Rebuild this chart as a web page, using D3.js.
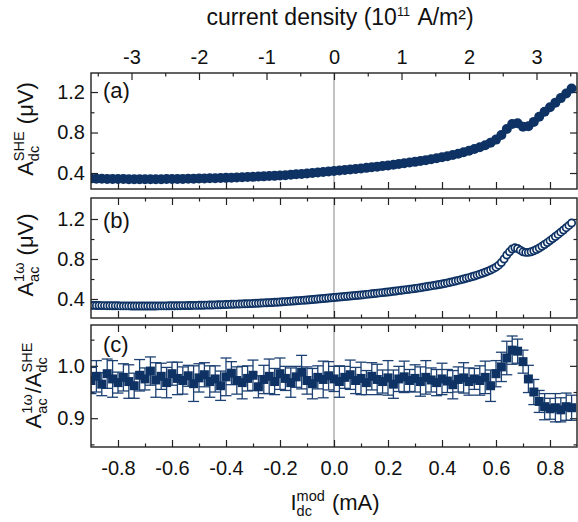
<!DOCTYPE html>
<html><head><meta charset="utf-8">
<script src="https://cdn.jsdelivr.net/npm/d3@7"></script>
<style>
body{margin:0;background:#fff}
svg{display:block}
text{font-family:"Liberation Sans",Arial,sans-serif;fill:#111}
</style>
</head><body><svg id="c" width="578" height="522"></svg>
<script>
// ---- data ----
// measurement grids (mA): coarse step for (a) and (c), fine step for (b)
const gridCoarseStart = -0.90, gridCoarseStep = 0.02;
const gridFineStart = -0.90, gridFineStep = 0.01;

// (a) A_dc^SHE (µV)
const sheDc = [
0.345,0.344,0.343,0.342,0.341,0.340,0.340,0.339,0.339,0.338,
0.338,0.338,0.339,0.339,0.340,0.340,0.341,0.342,0.343,0.344,
0.345,0.346,0.348,0.349,0.351,0.352,0.354,0.356,0.358,0.360,
0.362,0.365,0.367,0.370,0.372,0.375,0.379,0.383,0.387,0.391,
0.395,0.400,0.405,0.410,0.415,0.420,0.425,0.430,0.435,0.440,
0.445,0.451,0.457,0.463,0.469,0.475,0.482,0.489,0.496,0.503,
0.510,0.518,0.527,0.536,0.545,0.555,0.566,0.578,0.591,0.605,
0.620,0.637,0.655,0.675,0.700,0.730,0.775,0.835,0.885,0.892,
0.858,0.862,0.905,0.955,1.005,1.050,1.095,1.140,1.185,1.235];

// (b) A_ac^1ω (µV)
const ac1w = [
0.336,0.336,0.335,0.335,0.334,0.334,0.333,0.333,0.332,0.332,
0.332,0.331,0.331,0.331,0.331,0.330,0.330,0.330,0.330,0.330,
0.330,0.330,0.330,0.330,0.330,0.331,0.331,0.331,0.331,0.332,
0.332,0.332,0.333,0.333,0.334,0.334,0.335,0.335,0.336,0.336,
0.337,0.337,0.338,0.339,0.340,0.340,0.341,0.342,0.343,0.344,
0.345,0.346,0.347,0.348,0.349,0.350,0.351,0.352,0.353,0.354,
0.355,0.357,0.358,0.360,0.361,0.362,0.364,0.365,0.367,0.368,
0.370,0.372,0.374,0.376,0.378,0.380,0.382,0.384,0.386,0.388,
0.390,0.392,0.395,0.397,0.400,0.402,0.405,0.407,0.410,0.412,
0.415,0.417,0.420,0.422,0.425,0.427,0.430,0.432,0.435,0.437,
0.440,0.443,0.446,0.449,0.452,0.455,0.458,0.461,0.464,0.467,
0.470,0.473,0.477,0.480,0.484,0.487,0.491,0.494,0.498,0.501,
0.505,0.509,0.513,0.518,0.522,0.527,0.531,0.536,0.540,0.545,
0.550,0.555,0.561,0.567,0.573,0.580,0.586,0.593,0.600,0.607,
0.614,0.622,0.630,0.639,0.648,0.657,0.667,0.678,0.690,0.703,
0.718,0.738,0.765,0.800,0.840,0.872,0.900,0.912,0.905,0.888,
0.872,0.866,0.866,0.872,0.882,0.895,0.910,0.927,0.945,0.964,
0.984,1.004,1.025,1.046,1.068,1.090,1.113,1.136,1.160];

// (c) ratio and its error
const ratio = [
0.972,0.980,0.965,0.985,0.975,0.968,0.978,0.970,0.962,0.982,
0.975,0.990,0.973,0.980,0.968,0.985,0.976,0.972,0.981,0.966,
0.977,0.983,0.970,0.975,0.962,0.979,0.986,0.972,0.968,0.976,
0.982,0.960,0.974,0.980,0.970,0.985,0.976,0.968,0.979,0.988,
0.972,0.966,0.978,0.974,0.981,0.975,0.970,0.978,0.983,0.972,
0.976,0.968,0.980,0.974,0.970,0.977,0.965,0.975,0.979,0.972,
0.976,0.970,0.978,0.973,0.968,0.975,0.971,0.964,0.974,0.977,
0.970,0.975,0.972,0.978,0.962,0.985,0.998,1.015,1.030,1.028,
1.008,0.975,0.950,0.932,0.922,0.918,0.920,0.916,0.922,0.920];
const ratioErr = [
0.025,0.030,0.022,0.028,0.035,0.020,0.026,0.032,0.024,0.030,
0.021,0.027,0.033,0.025,0.029,0.022,0.031,0.026,0.020,0.034,
0.027,0.023,0.030,0.025,0.028,0.036,0.022,0.026,0.031,0.024,
0.029,0.021,0.027,0.033,0.025,0.030,0.023,0.028,0.020,0.032,
0.026,0.029,0.022,0.035,0.027,0.024,0.030,0.021,0.028,0.025,
0.031,0.023,0.026,0.029,0.022,0.033,0.027,0.024,0.030,0.021,
0.026,0.028,0.032,0.023,0.025,0.030,0.022,0.027,0.024,0.029,
0.026,0.020,0.028,0.031,0.030,0.025,0.028,0.032,0.027,0.023,
0.022,0.026,0.024,0.021,0.025,0.020,0.027,0.023,0.026,0.024];

// ticks
const xMajorTicks = [-0.8,-0.6,-0.4,-0.2,0.0,0.2,0.4,0.6,0.8];
const xMinorTicks = [-0.7,-0.5,-0.3,-0.1,0.1,0.3,0.5,0.7];
const topMajorTicks = [-3,-2,-1,0,1,2,3];
const topMinorTicks = [-3.5,-2.5,-1.5,-0.5,0.5,1.5,2.5,3.5];
const yMajorAB = [0.4,0.8,1.2];
const yMinorAB = [0.6,1.0];
const yMajorC = [0.9,1.0];
const yMinorC = [0.85,0.95,1.05];

// ---- drawing ----
const navy = "#0e3264";
const svg = d3.select("#c");
const L = 91, R = 577;
const x = d3.scaleLinear().domain([-0.9, 0.9]).range([L, R]);
const xTop = d3.scaleLinear().domain([-3.6, 3.6]).range([L, R]);

const panels = [
  {id:"a", top:73, bottom:189, domain:[0.242,1.388], major:yMajorAB, minor:yMinorAB, label:"(a)", lab:[33,129]},
  {id:"b", top:198, bottom:318, domain:[0.21,1.41], major:yMajorAB, minor:yMinorAB, label:"(b)", lab:[33,255]},
  {id:"c", top:325, bottom:447, domain:[0.845,1.078], major:yMajorC, minor:yMinorC, label:"(c)", lab:[41,385]}
];
const fmtX = d => d.toFixed(1);

function styleAxis(g, size) {
  g.select(".domain").remove();
  g.attr("font-family", null).attr("font-size", size || 20).attr("color", "#222");
  g.selectAll(".tick line").attr("stroke-width", 1.2);
  g.selectAll(".tick text").attr("fill", "#111");
}

panels.forEach(p => {
  const y = d3.scaleLinear().domain(p.domain).range([p.bottom, p.top]);
  p.y = y;
  const g = svg.append("g");
  g.append("clipPath").attr("id", "clip" + p.id)
    .append("rect").attr("x", L).attr("y", p.top).attr("width", R - L).attr("height", p.bottom - p.top);

  // zero line
  g.append("line").attr("x1", x(0)).attr("x2", x(0)).attr("y1", p.top).attr("y2", p.bottom)
    .attr("stroke", "#9a9a9a").attr("stroke-width", 1.2);

  // axes
  g.append("g").attr("transform", `translate(${L},0)`)
    .call(d3.axisLeft(y).tickValues(p.major).tickFormat(d => d.toFixed(1)).tickSizeInner(-7).tickSizeOuter(0).tickPadding(6))
    .call(a => styleAxis(a, 20));
  g.append("g").attr("transform", `translate(${L},0)`)
    .call(d3.axisLeft(y).tickValues(p.minor).tickFormat("").tickSizeInner(-3.5).tickSizeOuter(0))
    .call(a => styleAxis(a));
  g.append("g").attr("transform", `translate(${R},0)`)
    .call(d3.axisRight(y).tickValues(p.major).tickFormat("").tickSizeInner(-7).tickSizeOuter(0))
    .call(a => styleAxis(a));
  g.append("g").attr("transform", `translate(${R},0)`)
    .call(d3.axisRight(y).tickValues(p.minor).tickFormat("").tickSizeInner(-3.5).tickSizeOuter(0))
    .call(a => styleAxis(a));
  // bottom
  g.append("g").attr("transform", `translate(0,${p.bottom})`)
    .call(d3.axisBottom(x).tickValues(xMajorTicks).tickFormat(p.id === "c" ? fmtX : "").tickSizeInner(-7).tickSizeOuter(0).tickPadding(14))
    .call(a => styleAxis(a, 20));
  g.append("g").attr("transform", `translate(0,${p.bottom})`)
    .call(d3.axisBottom(x).tickValues(xMinorTicks).tickFormat("").tickSizeInner(-3.5).tickSizeOuter(0))
    .call(a => styleAxis(a));
  // top
  if (p.id === "a") {
    g.append("g").attr("transform", `translate(0,${p.top})`)
      .call(d3.axisTop(xTop).tickValues(topMajorTicks).tickFormat(d => String(d)).tickSizeInner(-7).tickSizeOuter(0).tickPadding(9))
      .call(a => styleAxis(a, 20));
    g.append("g").attr("transform", `translate(0,${p.top})`)
      .call(d3.axisTop(xTop).tickValues(topMinorTicks).tickFormat("").tickSizeInner(-3.5).tickSizeOuter(0))
      .call(a => styleAxis(a));
  } else {
    g.append("g").attr("transform", `translate(0,${p.top})`)
      .call(d3.axisTop(x).tickValues(xMajorTicks).tickFormat("").tickSizeInner(-7).tickSizeOuter(0))
      .call(a => styleAxis(a));
    g.append("g").attr("transform", `translate(0,${p.top})`)
      .call(d3.axisTop(x).tickValues(xMinorTicks).tickFormat("").tickSizeInner(-3.5).tickSizeOuter(0))
      .call(a => styleAxis(a));
  }

  const data = g.append("g").attr("clip-path", `url(#clip${p.id})`);
  if (p.id === "a") {
    data.selectAll("circle").data(sheDc).join("circle")
      .attr("cx", (d, i) => x(gridCoarseStart + i * gridCoarseStep))
      .attr("cy", d => y(d)).attr("r", 5).attr("fill", navy);
  } else if (p.id === "b") {
    data.selectAll("circle").data(ac1w).join("circle")
      .attr("cx", (d, i) => x(gridFineStart + i * gridFineStep))
      .attr("cy", d => y(d)).attr("r", 3.6).attr("fill", "#fff")
      .attr("stroke", navy).attr("stroke-width", 1.7);
  } else {
    const pts = ratio.map((v, i) => ({x: gridCoarseStart + i * gridCoarseStep, v, e: ratioErr[i]}));
    const eb = data.append("g").attr("stroke", "#1d4173").attr("stroke-width", 1.3);
    eb.selectAll(".v").data(pts).join("line").attr("class", "v")
      .attr("x1", d => x(d.x)).attr("x2", d => x(d.x)).attr("y1", d => y(d.v - d.e)).attr("y2", d => y(d.v + d.e));
    eb.selectAll(".t").data(pts).join("line").attr("class", "t")
      .attr("x1", d => x(d.x) - 5.5).attr("x2", d => x(d.x) + 5.5).attr("y1", d => y(d.v + d.e)).attr("y2", d => y(d.v + d.e));
    eb.selectAll(".b").data(pts).join("line").attr("class", "b")
      .attr("x1", d => x(d.x) - 5.5).attr("x2", d => x(d.x) + 5.5).attr("y1", d => y(d.v - d.e)).attr("y2", d => y(d.v - d.e));
    data.selectAll("rect").data(pts).join("rect")
      .attr("x", d => x(d.x) - 4.5).attr("y", d => y(d.v) - 4.5).attr("width", 9).attr("height", 9).attr("fill", navy);
  }

  // frame
  g.append("rect").attr("x", L).attr("y", p.top).attr("width", R - L).attr("height", p.bottom - p.top)
    .attr("fill", "none").attr("stroke", "#222").attr("stroke-width", 1.4);

  // panel label
  g.append("text").attr("x", 103).attr("y", p.top + (p.id === "a" ? 25 : p.id === "b" ? 30 : 27))
    .attr("font-size", 22).text(p.label);
});

// rich text helper: parts [{t}|{sup,sub}]
function rich(g, parts, size) {
  let cx = 0; const els = [];
  parts.forEach(pt => {
    if (pt.t !== undefined) {
      const e = g.append("text").attr("x", cx).attr("y", 0).attr("font-size", size).text(pt.t);
      els.push(e); cx += e.node().getComputedTextLength();
    } else {
      const ss = size * (pt.scale || 0.66); let w = 0;
      if (pt.sup) { const e = g.append("text").attr("x", cx).attr("y", -size * (pt.raise || 0.42)).attr("font-size", ss).text(pt.sup); els.push(e); w = Math.max(w, e.node().getComputedTextLength()); }
      if (pt.sub) { const e = g.append("text").attr("x", cx).attr("y", size * 0.26).attr("font-size", ss).text(pt.sub); els.push(e); w = Math.max(w, e.node().getComputedTextLength()); }
      cx += w + 1;
    }
  });
  els.forEach(e => e.attr("x", +e.attr("x") - cx / 2));
  return cx;
}

// y labels
const yLabels = [
  [{t:"A"},{sup:"SHE",sub:"dc"},{t:"\u00a0(μV)"}],
  [{t:"A"},{sup:"1ω",sub:"ac"},{t:"\u00a0(μV)"}],
  [{t:"A"},{sup:"1ω",sub:"ac"},{t:"/A"},{sup:"SHE",sub:"dc"}]
];
panels.forEach((p, i) => {
  const g = svg.append("g").attr("transform", `translate(${p.lab[0]},${p.lab[1]}) rotate(-90)`);
  rich(g, yLabels[i], 22);
});

// bottom title
rich(svg.append("g").attr("transform", "translate(335,510)"),
  [{t:"I"},{sup:"mod",sub:"dc"},{t:"\u00a0(mA)"}], 22);
// top title
rich(svg.append("g").attr("transform", "translate(340,25)"),
  [{t:"current density (10"},{sup:"11", scale:0.55, raise:0.4}, {t:"\u00a0A/m²)"}], 23);
</script>
</body></html>
